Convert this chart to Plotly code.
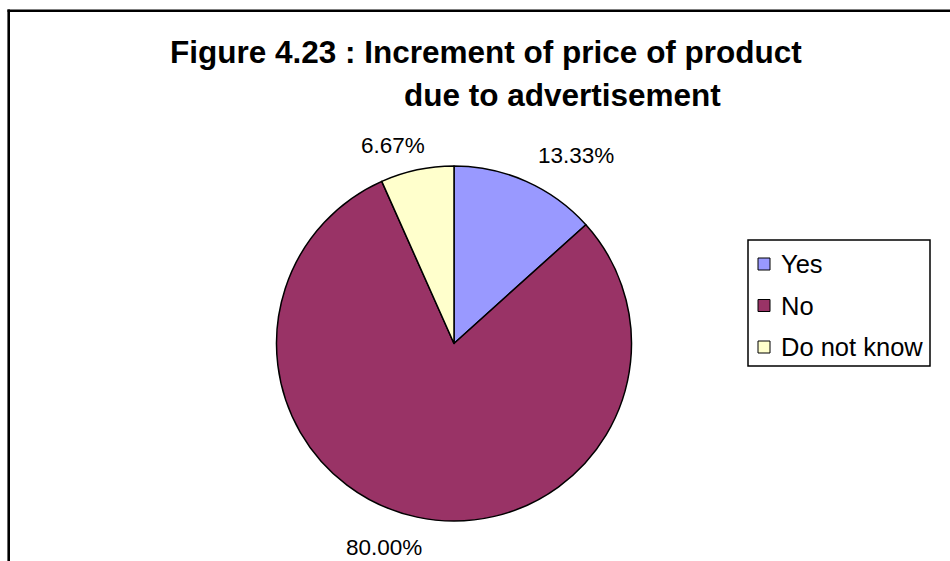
import plotly.graph_objects as go

# Survey answers: has advertisement increased the price of the product?
categories = ["Yes", "No", "Do not know"]
shares = [13.33, 80.00, 6.67]
colors = ["#9999FF", "#993366", "#FFFFCC"]
title_lines = ["Figure 4.23 : Increment of price of product", "due to advertisement"]

W, H = 950, 561


def px(x):
    return x / W


def py(y):
    return 1 - y / H


FONT = "Liberation Sans, Arial, sans-serif"

fig = go.Figure(
    go.Pie(
        labels=categories,
        values=shares,
        sort=False,
        direction="clockwise",
        rotation=0,
        marker=dict(colors=colors, line=dict(color="black", width=1.5)),
        textinfo="none",
        hoverinfo="label+percent",
        showlegend=False,
        domain=dict(x=[px(276.5), px(631.5)], y=[py(521), py(166)]),
    )
)

annotations = []
shapes = []

# Two-line title
title_pos = [(486, 51.5), (562, 95.5)]
for text, (cx, cy) in zip(title_lines, title_pos):
    annotations.append(dict(
        text=f"<b>{text}</b>", x=px(cx), y=py(cy), xref="paper", yref="paper",
        xanchor="center", yanchor="middle", showarrow=False,
        font=dict(family=FONT, size=31.5, color="black"),
    ))

# Percentage labels around the pie
label_pos = {"Yes": (575.5, 155), "No": (383.5, 547.5), "Do not know": (392.5, 145.5)}
total = sum(shares)
for cat, val in zip(categories, shares):
    cx, cy = label_pos[cat]
    annotations.append(dict(
        text=f"{val / total * 100:.2f}%", x=px(cx), y=py(cy), xref="paper", yref="paper",
        xanchor="center", yanchor="middle", showarrow=False,
        font=dict(family=FONT, size=22.5, color="black"),
    ))

# Legend box with colour keys
shapes.append(dict(type="rect", xref="paper", yref="paper",
                   x0=px(748), x1=px(930), y0=py(366), y1=py(240),
                   line=dict(color="black", width=1.5), fillcolor="white"))
for i, (cat, col) in enumerate(zip(categories, colors)):
    cy = 264 + i * 41.5
    shapes.append(dict(type="rect", xref="paper", yref="paper",
                       x0=px(758), x1=px(770), y0=py(cy + 6), y1=py(cy - 6),
                       line=dict(color="black", width=1), fillcolor=col))
    annotations.append(dict(
        text=cat, x=px(779), y=py(cy), xref="paper", yref="paper",
        xanchor="left", yanchor="middle", showarrow=False,
        font=dict(family=FONT, size=25.5, color="black"),
    ))

# Chart frame (left and top edges)
shapes.append(dict(type="line", xref="paper", yref="paper",
                   x0=px(8.7), x1=px(8.7), y0=py(600), y1=py(9.5),
                   line=dict(color="black", width=2.6)))
shapes.append(dict(type="line", xref="paper", yref="paper",
                   x0=px(7.5), x1=px(1000), y0=py(10.7), y1=py(10.7),
                   line=dict(color="black", width=2.6)))

fig.update_layout(
    width=W, height=H,
    margin=dict(l=0, r=0, t=0, b=0),
    paper_bgcolor="white", plot_bgcolor="white",
    annotations=annotations, shapes=shapes,
)

fig.write_html("out.html")
